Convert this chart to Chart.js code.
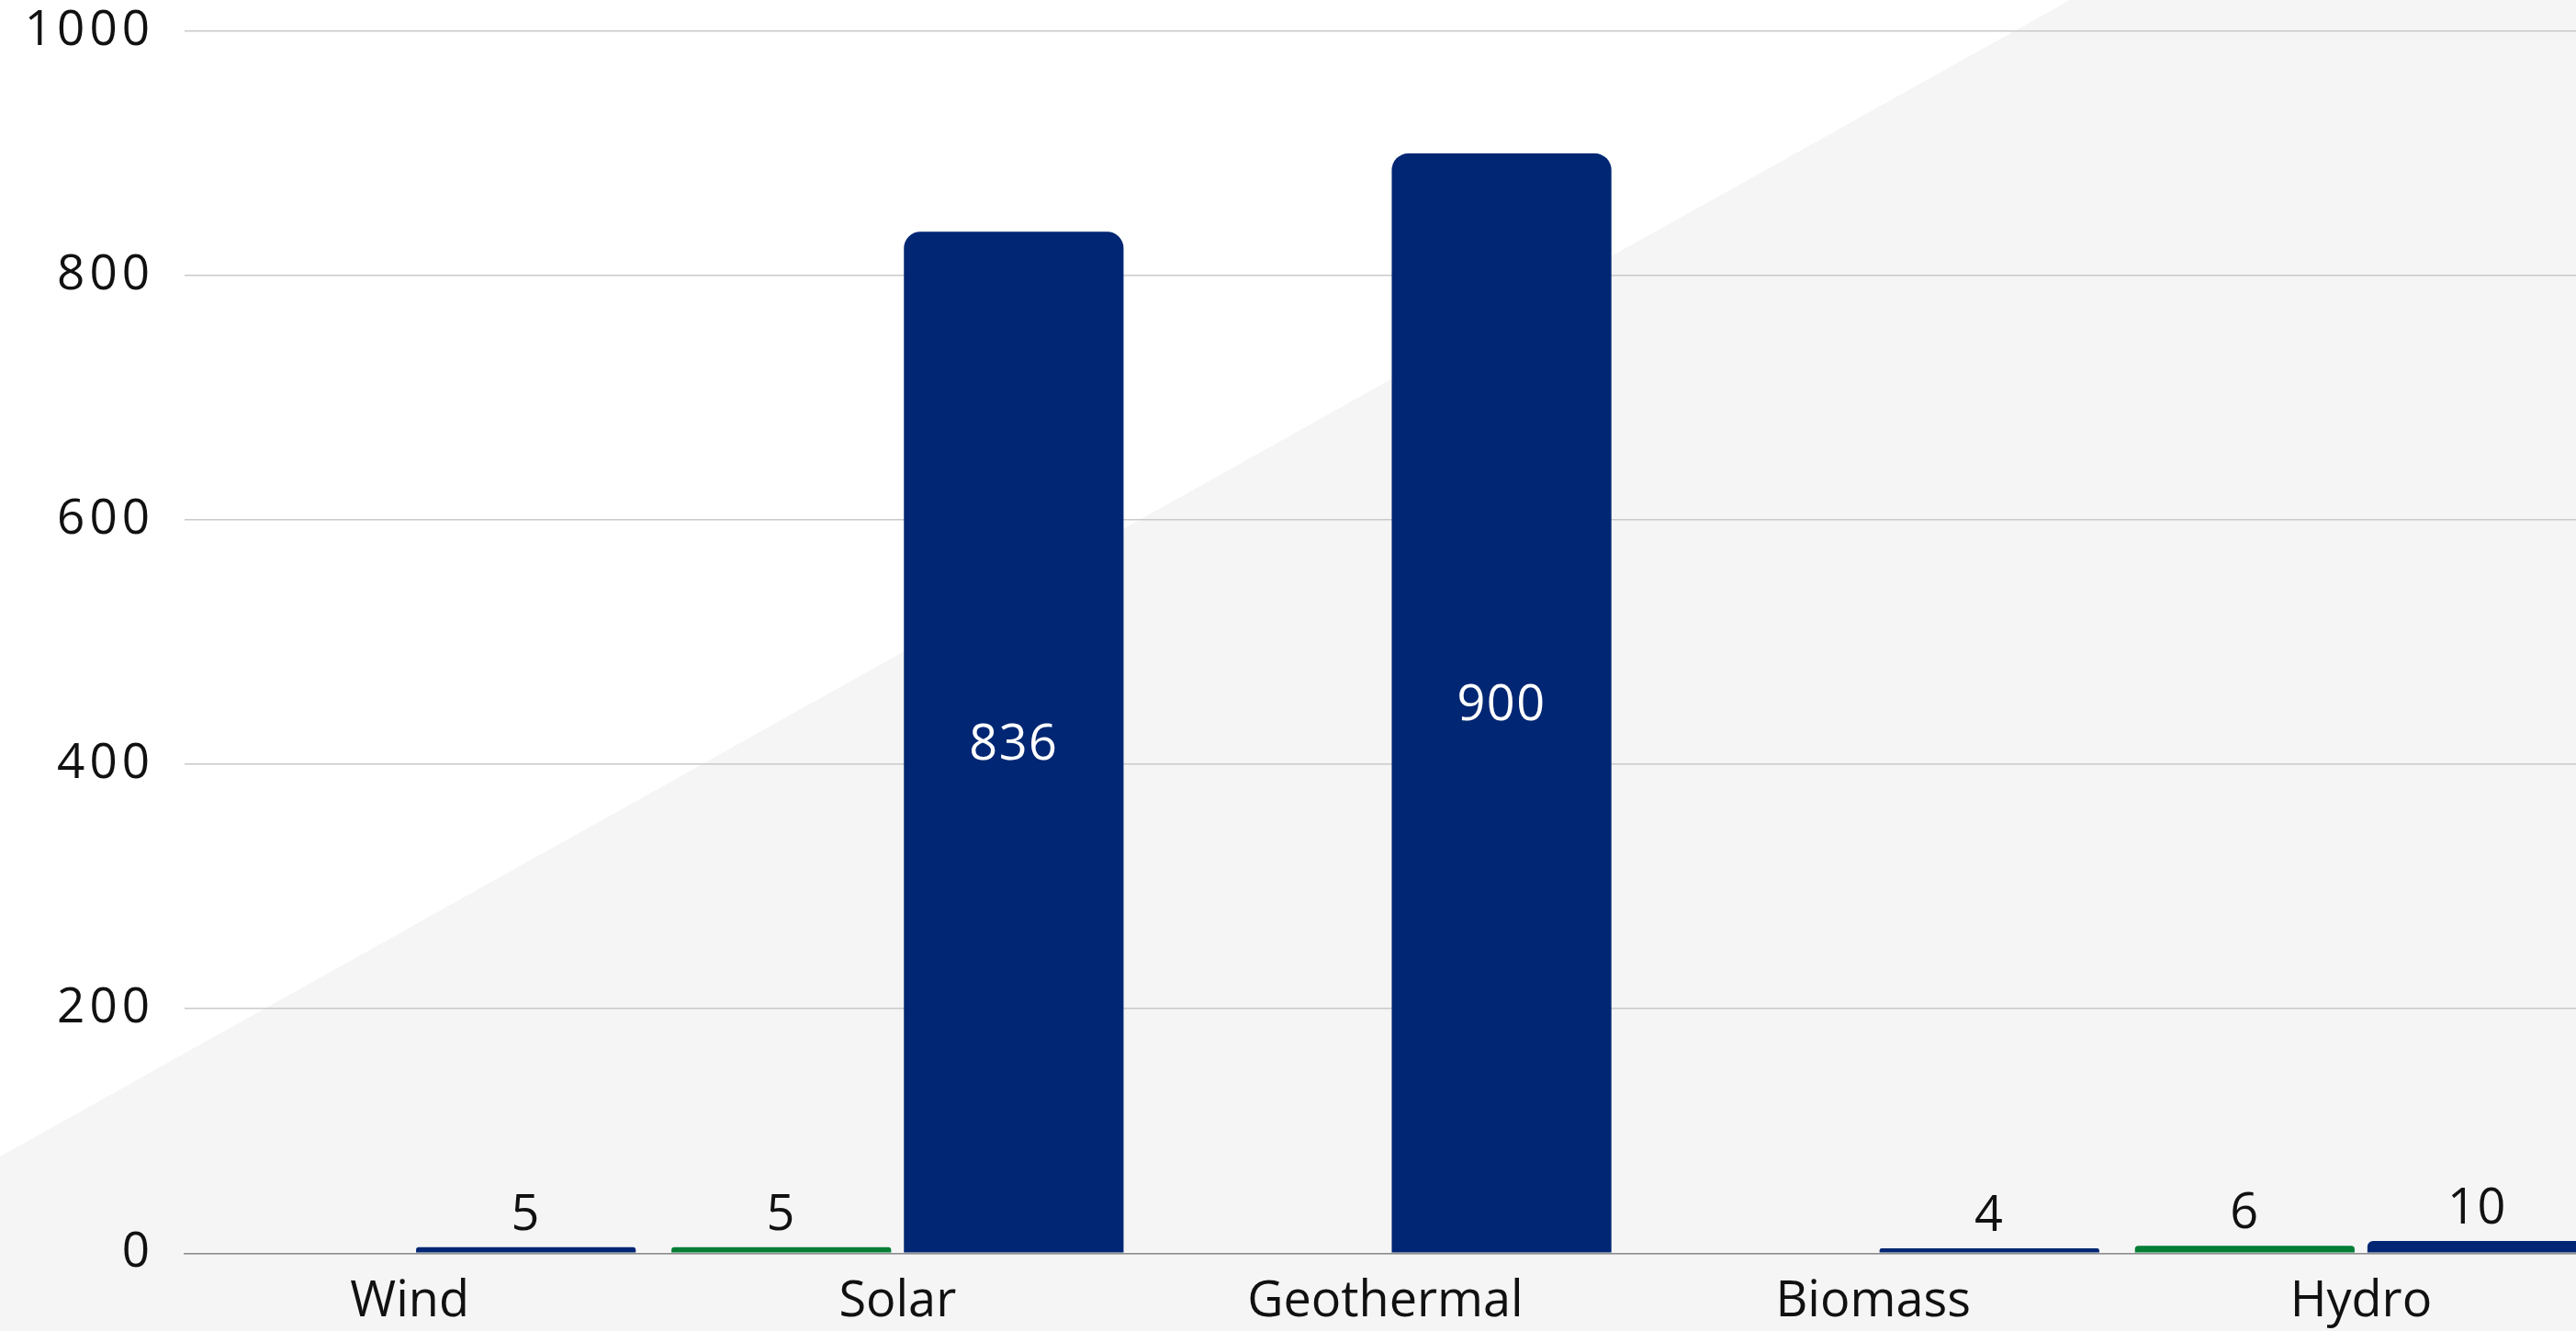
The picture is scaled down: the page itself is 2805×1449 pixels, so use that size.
<!DOCTYPE html>
<html>
<head>
<meta charset="utf-8">
<script src="https://cdn.jsdelivr.net/npm/chart.js@4.4.1/dist/chart.umd.min.js"></script>
<style>
  html, body { margin: 0; padding: 0; overflow: hidden; background: #ffffff; }
  #wrap { position: relative; width: 2805px; height: 1449px; }
</style>
</head>
<body>
<div id="wrap"><canvas id="c"></canvas></div>
<script>
// ---- data ----
const categories = ['Wind', 'Solar', 'Geothermal', 'Biomass', 'Hydro'];
const greenValues = [null, 5, null, null, 6];
const blueValues = [5, 836, 900, 4, 10];
const yTicks = [0, 200, 400, 600, 800, 1000];

const FONT = "'Open Sans', 'DejaVu Sans', sans-serif";

// linear scale whose tick labels are drawn with a little letter spacing
class SpacedLinearScale extends Chart.LinearScale {
  drawLabels(chartArea) {
    const ctx = this.ctx;
    ctx.save();
    try { ctx.letterSpacing = '5px'; } catch (e) {}
    super.drawLabels(chartArea);
    ctx.restore();
  }
}
SpacedLinearScale.id = 'spacedLinear';
SpacedLinearScale.defaults = Chart.LinearScale.defaults;
Chart.register(SpacedLinearScale);

const bgPlugin = {
  id: 'bg',
  beforeDraw(chart) {
    const ctx = chart.ctx, W = chart.width, H = chart.height;
    ctx.save();
    ctx.fillStyle = '#ffffff';
    ctx.fillRect(0, 0, W, H);
    ctx.fillStyle = '#f5f5f5';
    ctx.beginPath();
    ctx.moveTo(0, 1259);
    ctx.lineTo(2254, 0);
    ctx.lineTo(W, 0);
    ctx.lineTo(W, H);
    ctx.lineTo(0, H);
    ctx.closePath();
    ctx.fill();
    ctx.restore();
  }
};

const labelPlugin = {
  id: 'valueLabels',
  afterDatasetsDraw(chart) {
    const ctx = chart.ctx;
    ctx.save();
    ctx.font = '54px ' + FONT;
    ctx.textAlign = 'center';
    ctx.textBaseline = 'alphabetic';
    try { ctx.letterSpacing = '1.5px'; } catch (e) {}
    chart.data.datasets.forEach((ds, di) => {
      const meta = chart.getDatasetMeta(di);
      meta.data.forEach((el, i) => {
        const v = ds.data[i].y;
        if (v === null || v === undefined) return;
        const txt = String(v);
        if (v > 100) {
          ctx.fillStyle = '#ffffff';
          ctx.fillText(txt, el.x, (el.y + el.base) / 2 + 19);
        } else {
          ctx.fillStyle = '#111111';
          ctx.fillText(txt, el.x, el.y - 19);
        }
      });
    });
    ctx.restore();
  }
};

const toPoints = arr => arr.map((v, i) => ({ x: i, y: v }));

new Chart(document.getElementById('c'), {
  type: 'bar',
  data: {
    datasets: [
      {
        label: 'Series 1',
        data: toPoints(greenValues),
        backgroundColor: '#047d35',
        borderRadius: { topLeft: 18, topRight: 18, bottomLeft: 0, bottomRight: 0 },
        borderSkipped: 'bottom',
        categoryPercentage: 0.953,
        barPercentage: 0.945
      },
      {
        label: 'Series 2',
        data: toPoints(blueValues),
        backgroundColor: '#012673',
        borderRadius: { topLeft: 18, topRight: 18, bottomLeft: 0, bottomRight: 0 },
        borderSkipped: 'bottom',
        categoryPercentage: 0.953,
        barPercentage: 0.945
      }
    ]
  },
  options: {
    responsive: true,
    maintainAspectRatio: false,
    animation: false,
    layout: { padding: { top: 34, left: 0, right: 0, bottom: 0 } },
    plugins: {
      legend: { display: false },
      tooltip: { enabled: false }
    },
    scales: {
      x: {
        type: 'linear',
        offset: false,
        min: -0.4614,
        max: 4.4407,
        afterBuildTicks(scale) {
          scale.ticks = categories.map((c, i) => ({ value: i }));
        },
        afterFit(scale) {
          scale.height = 84.7;
          scale.paddingLeft = 0;
          scale.paddingRight = 0;
        },
        ticks: {
          callback: (v) => categories[v] !== undefined ? categories[v] : '',
          color: '#111111',
          font: { family: FONT, size: 54 },
          padding: 21,
          maxRotation: 0,
          autoSkip: false
        },
        grid: { display: false, drawTicks: false },
        border: { display: true, color: '#8c8c8c', width: 1.5 }
      },
      y: {
        type: 'spacedLinear',
        min: 0,
        max: 1000,
        afterBuildTicks(scale) {
          scale.ticks = yTicks.map(v => ({ value: v }));
        },
        afterFit(scale) {
          scale.width = 201;
          scale.paddingTop = 0;
          scale.paddingBottom = 0;
        },
        ticks: {
          callback: (v) => String(v),
          color: '#111111',
          font: { family: FONT, size: 53 },
          padding: 33
        },
        grid: { color: '#c9c9c9', lineWidth: 1.5, drawTicks: false },
        border: { display: false }
      }
    }
  },
  plugins: [bgPlugin, labelPlugin]
});
</script>
</body>
</html>
